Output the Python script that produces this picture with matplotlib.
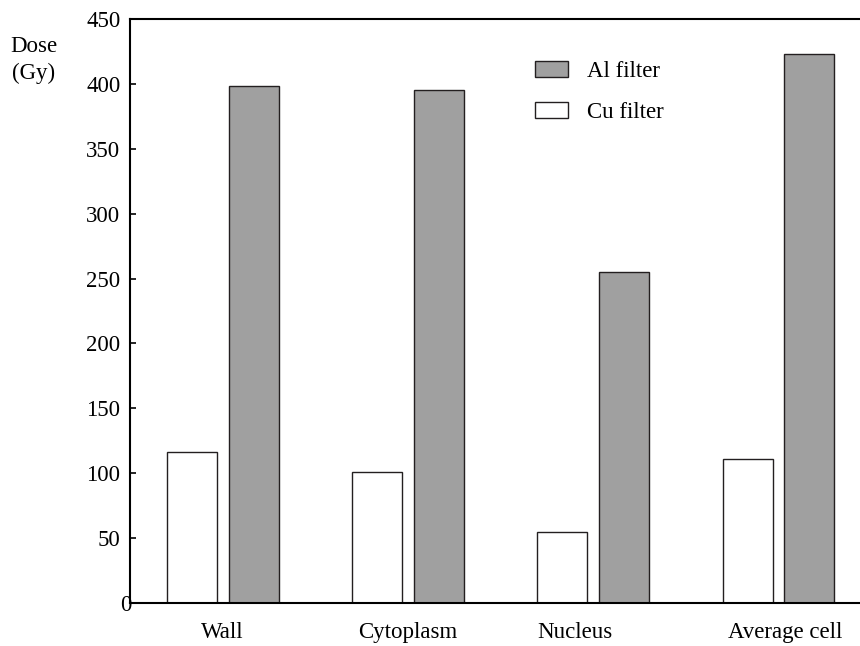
import matplotlib
matplotlib.use("Agg")
import matplotlib.pyplot as plt
import matplotlib.transforms as mtransforms
import numpy as np

# Dose per compartment for the two beam filters
compartments = ["Wall", "Cytoplasm", "Nucleus", "Average cell"]
cu_filter = [116, 101, 55, 111]
al_filter = [398, 395, 255, 423]
y_ticks = [0, 50, 100, 150, 200, 250, 300, 350, 400, 450]

plt.rcParams["font.family"] = ["Liberation Serif", "DejaVu Serif"]
FS = 16.5

fig = plt.figure(figsize=(8.6, 6.46), dpi=100)
ax = fig.add_axes([130 / 860, 43 / 646, 730 / 860, 584 / 646])

x = np.arange(len(compartments))
width = 0.27
offset = 0.167

ax.bar(x - offset, cu_filter, width, color="white", edgecolor="#231f20", lw=1.0,
       label="Cu filter")
ax.bar(x + offset, al_filter, width, color="#a0a0a0", edgecolor="#231f20", lw=1.0,
       label="Al filter")

ax.set_xlim(-0.5, 3.44)
ax.set_ylim(0, 450)
ax.set_yticks(y_ticks)
ax.set_xticks(x)
ax.set_xticklabels(compartments)

ax.spines["right"].set_visible(False)
for side in ("left", "bottom", "top"):
    ax.spines[side].set_linewidth(1.5)
    ax.spines[side].set_color("black")

ax.tick_params(axis="y", direction="in", length=4.5, width=1.2, pad=7, labelsize=FS)
ax.tick_params(axis="x", length=0, pad=14, labelsize=FS)
# zero label sits right on the spine
ax.yaxis.get_major_ticks()[0].set_pad(-1)

# nudge a couple of category labels off their bar-pair centres
for idx, dx in ((2, -0.18), (3, 0.07)):
    lab = ax.get_xticklabels()[idx]
    lab.set_transform(lab.get_transform()
                      + mtransforms.ScaledTranslation(dx, 0, fig.dpi_scale_trans))

fig.text(34 / 860, 1 - 47 / 646, "Dose", ha="center", va="center", fontsize=FS)
fig.text(34 / 860, 1 - 73 / 646, "(Gy)", ha="center", va="center", fontsize=FS)

handles, labels = ax.get_legend_handles_labels()
ax.legend(handles[::-1], labels[::-1], loc="upper left",
          bbox_to_anchor=(0.555, 0.928), frameon=False, fontsize=FS,
          handlelength=1.44, handleheight=0.7, handletextpad=0.83,
          labelspacing=0.87, borderpad=0, borderaxespad=0)

fig.savefig("out.png", dpi=100)
